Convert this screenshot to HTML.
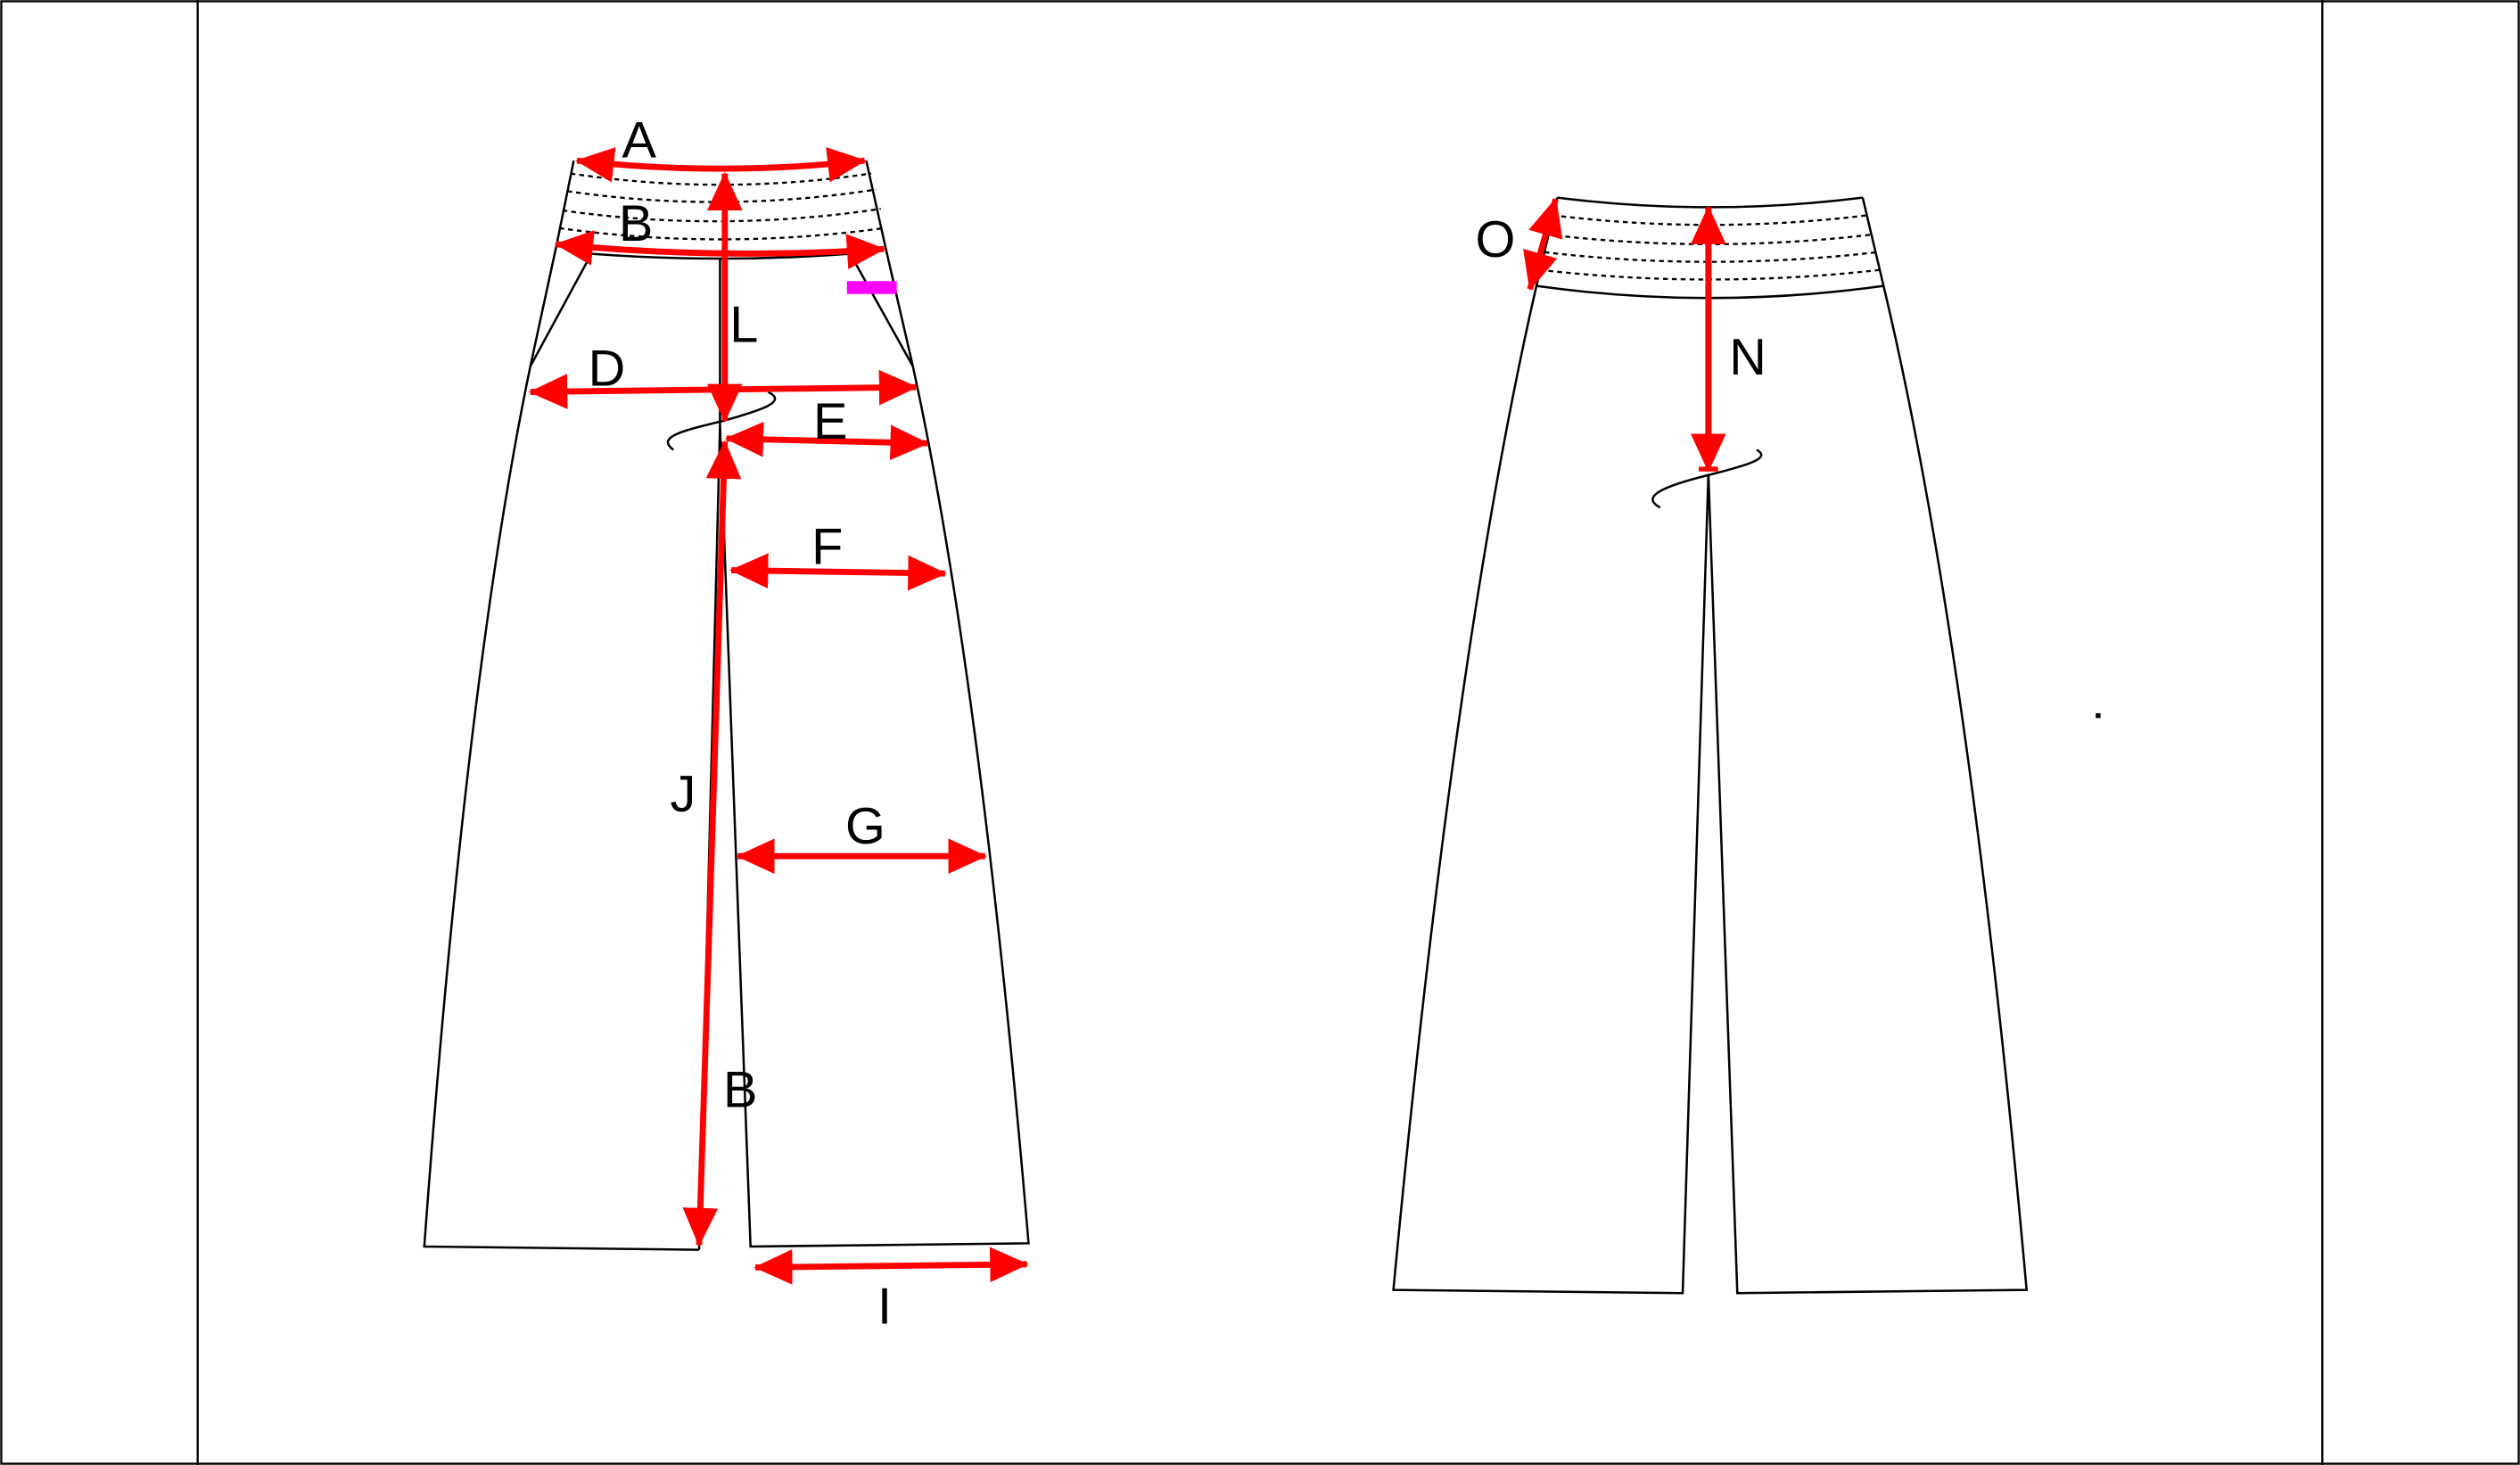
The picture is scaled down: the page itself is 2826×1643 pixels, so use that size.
<!DOCTYPE html>
<html><head><meta charset="utf-8"><style>
html,body{margin:0;padding:0;background:#fff;}
svg{display:block;}
text{font-family:"Liberation Sans",Arial,sans-serif;font-size:32px;fill:#000;}
</style></head><body>
<svg width="2826" height="1643" viewBox="0 0 1568 912" preserveAspectRatio="none" xmlns="http://www.w3.org/2000/svg">
<defs>
<marker id="ah" markerUnits="userSpaceOnUse" markerWidth="24" markerHeight="22" refX="23" refY="11" orient="auto-start-reverse" viewBox="0 0 24 22">
<path d="M0,0 L24,11 L0,22 z" fill="#f00"/>
</marker>
</defs>
<rect x="0" y="0" width="1568" height="912" fill="#fff"/>
<rect x="0.8" y="0.8" width="1566.4" height="910.4" fill="none" stroke="#000" stroke-width="1.3"/>
<line x1="123" y1="0" x2="123" y2="912" stroke="#000" stroke-width="1.3"/>
<line x1="1445" y1="0" x2="1445" y2="912" stroke="#000" stroke-width="1.3"/>

<!-- LEFT PANTS -->
<g fill="none" stroke="#000" stroke-width="1.4">
<path d="M357,100 L346,154 L330,228 Q290,420 264,776 L435,778"/>
<path d="M539,100 L551,154 L568,228 Q610,420 640,774 L467,776 L448,265"/>
<path d="M448,265 L435,778"/>
<path d="M368,158 Q448,164 529,158"/>
<path d="M368,158 L330,228"/>
<path d="M529,158 L568,228"/>
<path d="M448,161 L448,265"/>
<path d="M419,280 C408,272 425,268 450,262 C475,255 490,250 478,244"/>
<g stroke-dasharray="3,2.5" stroke-width="1.3">
<path d="M355,108 Q448,122 542,108"/>
<path d="M353,119 Q448,133 545,118"/>
<path d="M350,131 Q448,145 548,130"/>
<path d="M348,142 Q448,156 550,142"/>
</g>
</g>
<rect x="527" y="175" width="31" height="8" fill="#f0f"/>
<g fill="none" stroke="#f00" stroke-width="3.8" marker-start="url(#ah)" marker-end="url(#ah)">
<path d="M359,100 Q448,110 538,100"/>
<path d="M346,152 Q448,162 550,155"/>
<path d="M451,108 L451,262"/>
<path d="M330,244 L570,241"/>
<path d="M452,273 L577,276"/>
<path d="M451,275 L435,775"/>
<path d="M455,355 L588,357"/>
<path d="M459,533 L613,533"/>
<path d="M470,789 L639,787"/>
</g>
<text x="387" y="98">A</text>
<text x="385" y="150">B</text>
<text x="454" y="213">L</text>
<text x="366" y="240">D</text>
<text x="506" y="273">E</text>
<text x="505" y="351">F</text>
<text x="417" y="505">J</text>
<text x="526" y="525">G</text>
<text x="450" y="689">B</text>
<text x="546" y="824">I</text>

<!-- RIGHT PANTS -->
<g fill="none" stroke="#000" stroke-width="1.4">
<path d="M969,123 Q1064,135 1159,123"/>
<path d="M969,123 L956,178 Q905,400 867,803 L1047,805 L1063,295 L1081,805 L1261,803 Q1225,400 1172,178 L1159,123"/>
<path d="M956,178 Q1064,193 1172,178"/>
<path d="M1033,316 C1022,310 1030,304 1062,296 C1090,289 1102,285 1093,280"/>
<g stroke-dasharray="3,2.5" stroke-width="1.3">
<path d="M966,134 Q1064,146 1162,134"/>
<path d="M963,146 Q1064,158 1165,146"/>
<path d="M961,157 Q1064,169 1168,157"/>
<path d="M958,168 Q1064,180 1170,168"/>
</g>
</g>
<g fill="none" stroke="#f00" stroke-width="3.8" marker-start="url(#ah)" marker-end="url(#ah)">
<path d="M1063,129 L1063,293"/>
<path d="M968,124 L952,180"/>
</g>
<line x1="1057" y1="292" x2="1069" y2="292" stroke="#f00" stroke-width="3"/>
<text x="918" y="160">O</text>
<text x="1076" y="233">N</text>
<rect x="1304" y="444" width="3" height="3" fill="#000"/>
</svg>
</body></html>
